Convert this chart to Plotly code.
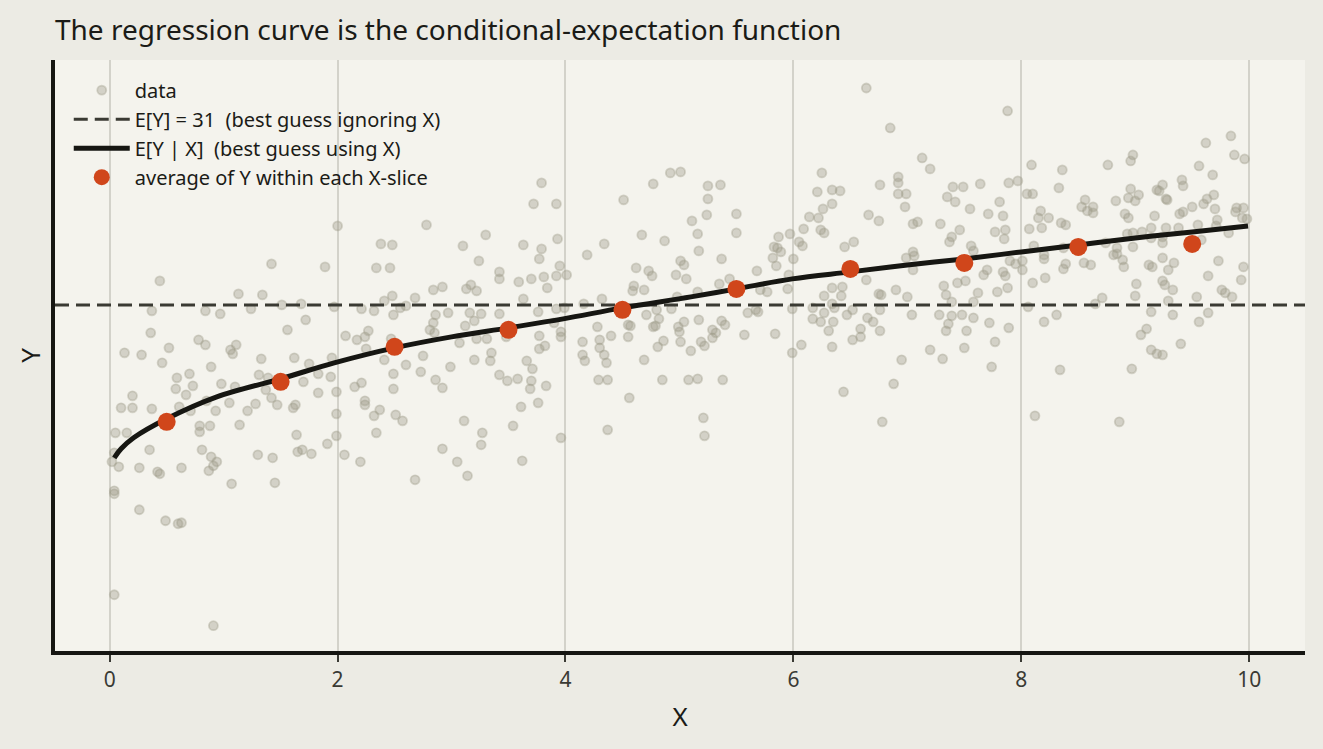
import plotly.graph_objects as go

# scatter cloud (x, y)
data_xy = [
    (1.42, 35.1), (1.89, 34.8), (2.34, 34.7), (2.46, 34.7), (0.44, 33.4), (1.13, 32.1), (1.34, 32.0), (2.48, 31.9),
    (0.37, 30.4), (0.84, 30.4), (0.97, 30.1), (1.24, 30.6), (1.51, 31.0), (1.68, 31.1), (1.97, 30.8), (2.21, 30.6),
    (2.32, 30.4), (2.41, 31.4), (2.49, 30.0), (1.72, 29.5), (0.36, 28.2), (1.56, 28.5), (0.78, 27.5), (0.84, 27.0),
    (0.52, 26.7), (0.13, 26.2), (0.28, 26.0), (1.06, 26.5), (1.11, 27.0), (1.08, 26.1), (0.46, 25.2), (0.89, 24.8),
    (1.33, 25.6), (1.62, 25.7), (1.75, 25.1), (1.95, 25.7), (2.07, 27.9), (2.17, 27.5), (2.24, 27.8), (2.27, 28.4),
    (2.25, 26.6), (2.41, 25.5), (2.49, 24.1), (0.20, 21.9), (0.10, 20.7), (0.20, 20.7), (0.37, 20.6), (0.59, 23.7),
    (0.70, 24.1), (0.58, 22.6), (0.67, 22.0), (0.73, 22.9), (0.61, 20.8), (0.71, 20.4), (0.98, 23.1), (1.10, 22.8),
    (1.05, 21.2), (0.93, 20.4), (0.85, 21.4), (1.31, 24.0), (1.39, 23.7), (1.37, 22.5), (1.42, 21.7), (1.47, 21.0),
    (1.28, 21.1), (1.21, 20.4), (1.14, 19.0), (1.61, 20.7), (1.63, 21.0), (1.70, 23.3), (1.83, 24.1), (1.83, 22.2),
    (1.94, 23.8), (1.99, 22.3), (1.99, 20.1), (2.15, 22.8), (2.21, 23.2), (2.24, 21.4), (2.24, 21.0), (2.37, 20.5),
    (2.32, 19.9), (2.49, 22.6), (2.51, 20.0), (0.05, 18.2), (0.15, 18.2), (0.04, 16.2), (0.02, 15.3), (0.08, 14.8),
    (0.26, 14.7), (0.35, 16.5), (0.42, 14.3), (0.44, 14.1), (0.63, 14.7), (0.79, 18.9), (0.79, 18.3), (0.88, 18.9),
    (0.81, 16.5), (0.89, 15.8), (0.94, 15.3), (0.87, 14.4), (0.91, 14.9), (1.07, 13.1), (1.30, 16.0), (1.43, 15.7),
    (1.45, 13.2), (1.64, 18.0), (1.65, 16.3), (1.69, 16.5), (1.77, 16.1), (1.91, 17.1), (1.99, 17.9), (2.06, 16.0),
    (2.20, 15.3), (2.34, 18.2), (0.04, 12.4), (0.04, 12.1), (0.26, 10.5), (0.49, 9.4), (0.60, 9.1), (0.63, 9.2),
    (0.04, 2.0), (0.91, -1.1), (2.00, 38.9), (2.38, 37.1), (2.48, 37.0),
    (3.79, 43.2), (3.72, 41.1), (3.92, 41.1), (2.78, 39.0), (3.30, 38.0), (3.10, 36.9), (3.63, 37.0), (3.79, 36.6),
    (3.77, 35.6), (3.93, 37.6), (3.24, 35.4), (3.42, 34.3), (3.42, 33.6), (3.81, 33.8), (3.95, 34.9), (3.92, 33.9),
    (4.01, 34.0), (3.59, 33.3), (3.70, 33.6), (3.84, 32.7), (2.84, 32.5), (2.92, 32.8), (3.13, 32.6), (3.17, 33.0),
    (3.22, 32.4), (2.68, 31.7), (3.63, 31.6), (2.55, 30.7), (2.60, 30.9), (2.86, 30.0), (2.97, 30.2), (3.16, 30.2),
    (3.26, 30.1), (3.42, 30.1), (3.76, 30.3), (3.92, 30.6), (3.99, 30.7), (2.84, 29.2), (2.81, 28.5), (2.85, 28.2),
    (3.12, 28.9), (3.20, 29.4), (3.07, 27.2), (3.22, 27.6), (3.31, 27.6), (3.48, 27.8), (3.77, 27.9), (3.77, 26.6),
    (3.82, 26.9), (3.90, 29.2), (3.96, 28.3), (3.96, 27.8), (2.47, 27.6), (2.75, 25.9), (3.35, 26.2), (3.34, 25.4),
    (3.20, 25.5), (2.99, 24.8), (2.60, 25.0), (2.73, 24.3), (2.86, 23.5), (2.92, 22.7), (3.42, 24.0), (3.49, 23.4),
    (3.58, 23.6), (3.66, 25.4), (3.71, 24.6), (3.70, 23.4), (3.69, 22.6), (3.83, 22.9), (3.76, 21.2), (3.61, 20.8),
    (3.54, 18.9), (3.62, 15.4), (3.27, 18.2), (3.26, 17.0), (3.11, 19.4), (2.92, 16.6), (3.05, 15.3), (3.14, 13.9),
    (2.68, 13.5), (2.57, 19.4), (3.96, 17.7),
    (4.51, 41.5), (4.77, 43.1), (4.92, 44.2), (5.01, 44.3), (5.25, 42.9), (5.25, 41.6), (5.24, 40.0), (5.11, 39.4),
    (5.16, 38.1), (5.17, 36.4), (4.34, 37.1), (4.19, 36.0), (4.67, 38.0), (4.87, 37.4), (4.62, 34.7), (4.73, 34.4),
    (4.76, 33.9), (5.01, 35.4), (5.04, 35.0), (4.97, 34.0), (5.06, 33.6), (4.60, 32.9), (4.59, 32.4), (4.69, 32.5),
    (4.32, 31.6), (4.16, 31.1), (4.71, 30.0), (4.80, 30.5), (4.82, 29.6), (4.93, 30.6), (4.98, 31.8), (5.16, 32.3),
    (5.17, 29.5), (5.04, 29.3), (4.77, 28.8), (4.79, 28.9), (4.99, 28.8), (5.00, 28.3), (4.28, 28.8), (4.55, 29.0),
    (4.57, 28.9), (4.40, 27.9), (4.55, 27.8), (4.15, 27.3), (4.30, 27.5), (4.30, 26.7), (4.34, 26.0), (4.36, 25.2),
    (4.15, 26.0), (4.17, 25.4), (4.86, 27.4), (4.81, 26.8), (5.01, 27.3), (5.10, 26.4), (5.19, 27.3), (5.22, 26.9),
    (4.69, 25.5), (4.29, 23.5), (4.37, 23.5), (4.85, 23.5), (5.08, 23.5), (5.16, 23.6), (4.56, 21.7), (4.37, 18.5),
    (5.21, 19.7), (5.22, 17.9), (6.44, 22.3), (6.88, 23.1), (6.78, 19.3), (8.12, 19.9), (8.86, 19.3), (5.38, 23.5),
    (6.64, 52.7), (6.85, 48.7), (7.88, 50.4), (7.13, 45.7), (7.20, 44.6), (6.25, 44.2), (5.36, 43.0), (5.50, 40.1),
    (5.50, 38.2), (5.37, 35.6), (6.21, 42.3), (6.34, 42.5), (6.41, 42.4), (6.34, 41.1), (6.26, 40.6), (6.22, 39.7),
    (6.14, 39.8), (6.76, 43.0), (6.92, 43.8), (6.92, 43.2), (6.92, 42.1), (6.99, 42.1), (6.98, 40.8), (6.66, 40.0),
    (6.75, 39.4), (7.05, 39.1), (7.09, 39.3), (7.29, 39.1), (7.40, 42.8), (7.49, 42.8), (7.64, 43.1), (7.35, 41.8),
    (7.42, 41.3), (7.55, 40.6), (7.71, 40.1), (7.81, 41.3), (7.84, 39.9), (7.89, 43.2), (6.09, 38.6), (6.24, 38.5),
    (6.27, 38.2), (5.97, 38.1), (5.87, 37.8), (5.83, 36.8), (5.86, 36.7), (5.89, 36.3), (5.82, 35.7), (5.85, 34.9),
    (6.05, 37.3), (6.08, 36.9), (6.00, 35.6), (6.45, 36.8), (6.53, 37.3), (5.68, 34.4), (5.96, 34.0), (5.95, 32.6),
    (5.77, 32.3), (5.71, 32.5), (5.35, 33.1), (5.44, 33.6), (5.60, 30.2), (5.69, 30.3), (5.67, 30.5), (5.37, 29.4),
    (5.40, 29.0), (5.29, 28.5), (5.32, 28.2), (5.29, 27.7), (5.57, 28.0), (5.84, 28.1), (5.99, 26.2), (6.07, 27.0),
    (5.99, 30.6), (6.17, 30.7), (6.17, 29.6), (6.24, 29.3), (6.27, 30.2), (6.31, 28.4), (6.34, 26.8), (6.35, 29.3),
    (6.36, 30.7), (6.34, 31.1), (6.27, 31.9), (6.34, 32.7), (6.43, 32.8), (6.42, 31.9), (6.47, 30.0), (6.52, 30.5),
    (6.59, 28.6), (6.59, 27.8), (6.52, 27.5), (6.65, 29.7), (6.70, 29.3), (6.76, 28.4), (6.95, 25.5), (6.64, 33.5),
    (6.75, 32.1), (6.77, 32.0), (6.76, 30.5), (6.90, 32.5), (7.00, 31.8), (7.04, 30.0), (6.99, 35.7), (7.05, 36.3),
    (7.06, 35.9), (7.05, 34.5), (7.20, 26.5), (7.31, 25.6), (7.50, 26.7), (7.74, 24.8), (7.77, 27.3), (7.52, 28.4),
    (7.58, 29.7), (7.48, 30.0), (7.39, 29.9), (7.28, 30.0), (7.34, 28.4), (7.36, 29.1), (7.32, 32.9), (7.34, 32.0),
    (7.44, 33.2), (7.51, 33.4), (7.39, 31.3), (7.58, 31.3), (7.62, 32.2), (7.72, 29.2), (7.89, 28.7), (7.37, 37.3),
    (7.39, 37.8), (7.46, 38.5), (7.56, 36.9), (7.58, 36.4), (7.67, 34.0), (7.70, 34.5), (7.84, 34.3), (7.86, 33.9),
    (7.79, 32.3), (7.88, 32.7), (7.77, 38.3), (7.86, 38.5), (7.85, 37.6),
    (8.09, 45.0), (8.36, 44.5), (8.33, 42.7), (7.97, 43.4), (8.05, 42.1), (8.10, 42.1), (8.17, 40.4), (8.15, 39.7),
    (8.24, 39.7), (8.07, 38.6), (8.18, 38.7), (8.35, 39.2), (8.39, 39.0), (8.56, 41.5), (8.53, 40.8), (8.58, 40.4),
    (8.63, 40.8), (8.63, 40.2), (8.76, 45.0), (8.83, 41.4), (8.96, 45.4), (8.98, 46.0), (8.96, 42.6), (9.03, 42.0),
    (8.94, 41.7), (9.00, 41.4), (8.91, 40.1), (8.94, 39.7), (8.11, 36.9), (8.20, 36.0), (8.20, 35.6), (8.37, 36.7),
    (8.39, 35.1), (8.37, 34.6), (8.21, 33.7), (8.10, 33.2), (8.55, 35.2), (8.61, 35.0), (8.01, 35.4), (8.01, 34.5),
    (7.90, 35.4), (7.95, 35.1), (8.06, 30.8), (8.20, 29.3), (8.31, 30.0), (8.34, 24.5), (8.74, 37.2), (8.84, 36.7),
    (8.81, 36.0), (8.84, 36.1), (8.89, 35.5), (8.90, 34.8), (8.98, 36.8), (8.93, 38.1), (8.98, 38.2), (9.06, 38.3),
    (9.14, 38.7), (9.17, 39.9), (9.19, 42.5), (9.24, 43.0), (9.21, 42.4), (9.27, 41.6), (9.28, 41.5), (9.14, 37.7),
    (9.24, 37.8), (9.24, 37.2), (9.27, 38.7), (9.38, 38.7), (9.39, 40.1), (9.42, 40.3), (9.41, 43.5), (9.42, 42.9),
    (9.50, 40.8), (9.56, 44.9), (9.62, 47.2), (9.68, 44.0), (9.69, 42.0), (9.70, 40.6), (9.63, 41.6), (9.60, 41.1),
    (9.55, 39.0), (9.58, 37.5), (9.72, 39.5), (9.71, 38.9), (9.82, 38.2), (9.84, 47.9), (9.87, 46.0), (9.96, 45.6),
    (9.89, 40.7), (9.88, 40.3), (9.95, 40.7), (9.94, 39.7), (9.98, 39.6), (9.24, 35.7), (9.34, 35.2), (9.29, 34.5),
    (9.12, 35.0), (9.15, 34.8), (9.01, 33.1), (9.00, 31.9), (9.24, 33.4), (9.26, 33.0), (9.33, 32.5), (9.14, 30.3),
    (9.33, 30.0), (9.29, 31.4), (9.64, 33.9), (9.73, 35.4), (9.76, 32.5), (9.79, 32.2), (9.85, 31.8), (9.95, 34.8),
    (9.93, 33.5), (9.54, 31.8), (9.56, 29.3), (9.64, 30.2), (9.40, 27.1), (9.10, 28.6), (9.05, 28.0), (9.14, 26.5),
    (9.19, 26.1), (9.24, 26.0), (8.97, 24.6), (8.71, 31.7), (8.65, 31.1),
]
data_x = [p[0] for p in data_xy]
data_y = [p[1] for p in data_xy]

# overall mean of Y
mean_y = 31.0

# regression curve E[Y | X]
curve_x = [0.04, 0.1, 0.21, 0.5, 0.94, 1.5, 1.97, 2.5, 3.0, 3.5, 3.98, 4.5,
           5.1, 5.5, 5.99, 6.5, 7.0, 7.5, 8.0, 8.5, 9.0, 9.5, 9.99]
curve_y = [15.7, 16.6, 17.7, 19.6, 21.8, 23.6, 25.2, 26.7, 27.8, 28.7, 29.6, 30.7,
           31.8, 32.6, 33.6, 34.3, 35.0, 35.6, 36.3, 37.0, 37.7, 38.3, 38.9]

# slice averages
slice_x = [0.5, 1.5, 2.5, 3.5, 4.5, 5.5, 6.5, 7.5, 8.5, 9.5]
slice_y = [19.3, 23.3, 26.8, 28.5, 30.5, 32.6, 34.6, 35.2, 36.8, 37.1]

FONT = "Noto Sans"
INK = "#1b1b17"
GREY = "#3a3a34"
DOT = "rgba(158,156,138,0.38)"

fig = go.Figure()

fig.add_trace(go.Scatter(
    x=data_x, y=data_y, mode="markers", name="data",
    marker=dict(size=9, color=DOT, line=dict(width=1.8, color=DOT)),
))
fig.add_trace(go.Scatter(
    x=[-0.48, 10.49], y=[mean_y, mean_y], mode="lines",
    name=f"E[Y] = {mean_y:.0f}  (best guess ignoring X)",
    line=dict(color="#3a3a33", width=3, dash="14px,7px"),
))
fig.add_trace(go.Scatter(
    x=curve_x, y=curve_y, mode="lines", name="E[Y | X]  (best guess using X)",
    line=dict(color="#161612", width=5, shape="spline"),
))
fig.add_trace(go.Scatter(
    x=slice_x, y=slice_y, mode="markers", name="average of Y within each X-slice",
    marker=dict(size=18, color="#d0461b"),
))

fig.update_layout(
    width=1323, height=749,
    paper_bgcolor="#ecebe4", plot_bgcolor="#f4f3ed",
    margin=dict(l=55, r=18, t=60, b=98),
    font=dict(family=FONT, color=GREY, size=18),
    title=dict(text="The regression curve is the conditional-expectation function",
               x=55 / 1323, xanchor="left", y=1 - 30 / 749, yanchor="middle",
               font=dict(family=FONT, size=28, color=INK)),
    showlegend=True,
    legend=dict(x=0.011, y=0.982, xanchor="left", yanchor="top", itemwidth=56,
                bgcolor="rgba(0,0,0,0)", font=dict(size=20, color=INK)),
    xaxis=dict(range=[-0.48, 10.49], dtick=2, tick0=0,
               showgrid=True, gridcolor="#d3d2ca", gridwidth=1.5,
               zeroline=False, showline=True, linecolor="#161612", linewidth=4,
               ticks="outside", ticklen=7, tickwidth=2, tickcolor=GREY,
               tickfont=dict(size=21, color=GREY),
               title=dict(text="X", font=dict(size=26, color=INK), standoff=17)),
    yaxis=dict(range=[-3.63, 55.5], showticklabels=False, ticks="",
               showgrid=False, zeroline=False, showline=True,
               linecolor="#161612", linewidth=4,
               title=dict(text="Y", font=dict(size=26, color=INK), standoff=4)),
)

fig.write_html("out.html", config={"displayModeBar": False},
               post_script="document.body.style.margin='0px';")
